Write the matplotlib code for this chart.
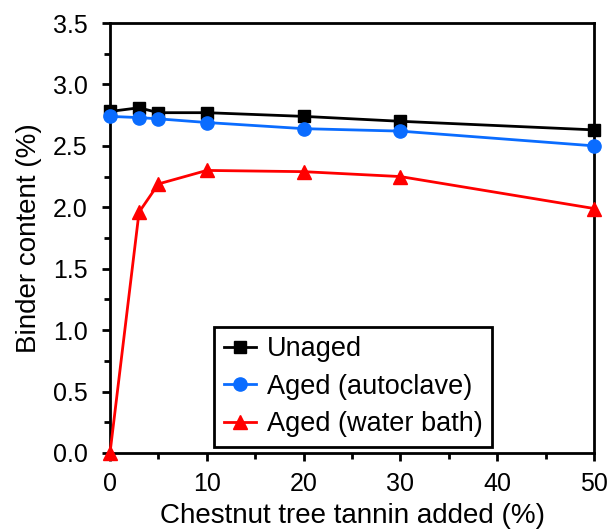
import matplotlib.pyplot as plt
from matplotlib.ticker import MultipleLocator

plt.rcParams['font.family'] = ['Liberation Sans', 'DejaVu Sans']

tannin = [0, 3, 5, 10, 20, 30, 50]
unaged = [2.78, 2.81, 2.77, 2.77, 2.74, 2.70, 2.63]
aged_autoclave = [2.74, 2.73, 2.72, 2.69, 2.64, 2.62, 2.50]
aged_water = [0.0, 1.96, 2.19, 2.30, 2.29, 2.25, 1.99]

fig = plt.figure(figsize=(6.16, 5.29), dpi=100)
ax = fig.add_axes([110 / 616, 76 / 529, 484 / 616, 430 / 529])

ax.plot(tannin, unaged, color='black', marker='s', markersize=9, lw=2,
        label='Unaged', clip_on=False, zorder=3)
ax.plot(tannin, aged_autoclave, color='#0a6cff', marker='o', markersize=9.5, lw=2,
        label='Aged (autoclave)', clip_on=False, zorder=3)
ax.plot(tannin, aged_water, color='#ff0000', marker='^', markersize=9.5, lw=2,
        label='Aged (water bath)', clip_on=False, zorder=3)

ax.set_xlim(0, 50)
ax.set_ylim(0, 3.5)
ax.xaxis.set_major_locator(MultipleLocator(10))
ax.xaxis.set_minor_locator(MultipleLocator(5))
ax.yaxis.set_major_locator(MultipleLocator(0.5))
ax.yaxis.set_minor_locator(MultipleLocator(0.25))
ax.yaxis.set_major_formatter(plt.FormatStrFormatter('%.1f'))

ax.tick_params(which='both', direction='out', width=2, labelsize=18)
ax.tick_params(which='major', length=6)
ax.tick_params(which='minor', length=4)
ax.tick_params(axis='x', top=False, pad=8)
ax.tick_params(axis='y', pad=10)
for s in ax.spines.values():
    s.set_linewidth(2)

ax.set_xlabel('Chestnut tree tannin added (%)', fontsize=20, labelpad=5)
ax.set_ylabel('Binder content (%)', fontsize=20, labelpad=8)

leg = ax.legend(loc='lower right', bbox_to_anchor=(0.79, 0.015), fontsize=19.5,
                fancybox=False, framealpha=1, edgecolor='black',
                handlelength=1.2, handletextpad=0.4, borderpad=0.35,
                labelspacing=0.42, borderaxespad=0)
leg.get_frame().set_linewidth(2)

plt.savefig('out.png', dpi=100)
